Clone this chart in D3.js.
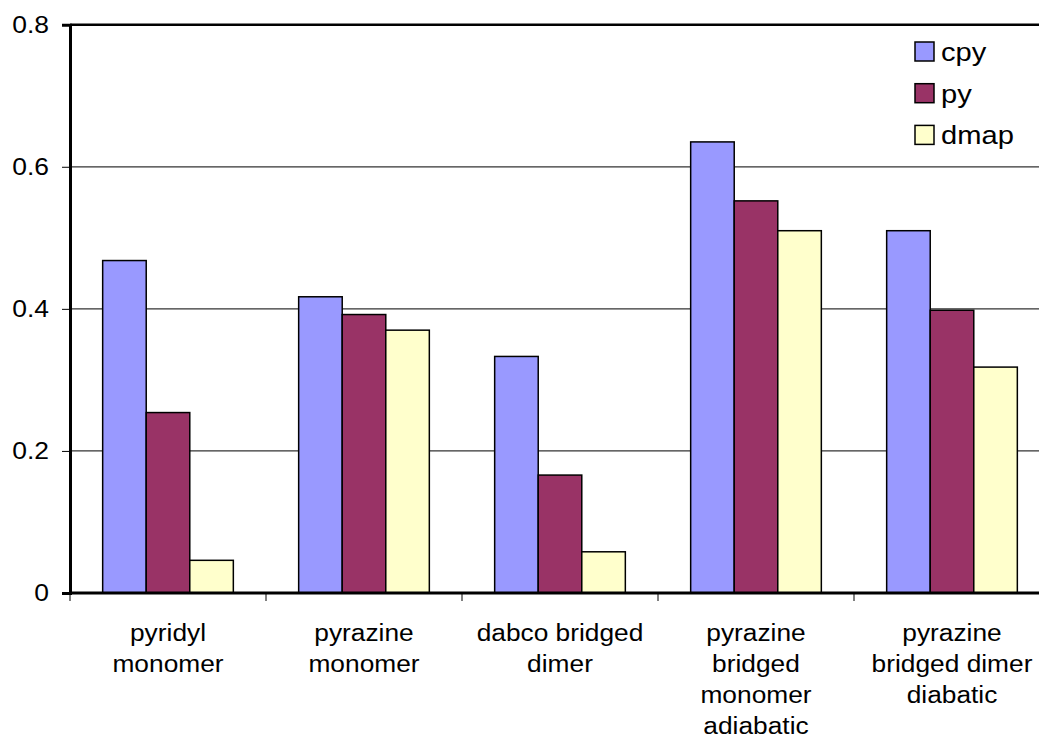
<!DOCTYPE html>
<html>
<head>
<meta charset="utf-8">
<script src="https://cdn.jsdelivr.net/npm/d3@7"></script>
<style>
  html, body { margin: 0; padding: 0; background: #fff; }
  svg { display: block; }
  text { font-family: "Liberation Sans", Arial, sans-serif; fill: #000; }
</style>
</head>
<body>
<svg id="chart" width="1039" height="742"></svg>
<script>
// Category labels (one array per line)
const categories = [
  ["pyridyl", "monomer"],
  ["pyrazine", "monomer"],
  ["dabco bridged", "dimer"],
  ["pyrazine", "bridged", "monomer", "adiabatic"],
  ["pyrazine", "bridged dimer", "diabatic"]
];
const seriesNames = ["cpy", "py", "dmap"];
const cpy  = [0.468, 0.417, 0.333, 0.635, 0.510];
const py   = [0.254, 0.392, 0.166, 0.552, 0.398];
const dmap = [0.046, 0.370, 0.058, 0.510, 0.318];
const yTicks = [0, 0.2, 0.4, 0.6, 0.8];
const colors = ["#9999FF", "#993366", "#FFFFCC"];

const seriesValues = [cpy, py, dmap];
const catKeys = categories.map(c => c.join(" "));

const svg = d3.select("#chart");
const plotLeft = 70, plotRight = 1050, plotTop = 24.7, plotBottom = 593;
const stretch = 1.12; // wide text face

const x0 = d3.scaleBand().domain(catKeys).range([plotLeft, plotRight]).padding(0);
const x1 = d3.scaleBand().domain(seriesNames).range([0, x0.bandwidth()])
  .paddingInner(0).paddingOuter(0.75);
const y = d3.scaleLinear().domain([0, 0.8]).range([plotBottom, plotTop]);

// Horizontal gridlines
svg.append("g")
  .selectAll("line")
  .data(yTicks.filter(t => t > 0 && t < 0.8))
  .join("line")
  .attr("x1", plotLeft).attr("x2", plotRight)
  .attr("y1", d => y(d)).attr("y2", d => y(d))
  .attr("stroke", "#333").attr("stroke-width", 1.2);

// Plot area top border
svg.append("line")
  .attr("x1", plotLeft).attr("x2", plotRight)
  .attr("y1", y(0.8)).attr("y2", y(0.8))
  .attr("stroke", "#000").attr("stroke-width", 2.5);

// Bars
const groups = svg.append("g")
  .selectAll("g")
  .data(catKeys)
  .join("g")
  .attr("transform", d => `translate(${x0(d)},0)`);

groups.selectAll("rect")
  .data((d, i) => seriesNames.map((s, j) => ({ s, v: seriesValues[j][i], c: colors[j] })))
  .join("rect")
  .attr("x", d => x1(d.s))
  .attr("width", x1.bandwidth())
  .attr("y", d => y(d.v))
  .attr("height", d => y(0) - y(d.v))
  .attr("fill", d => d.c)
  .attr("stroke", "#000")
  .attr("stroke-width", 1.5);

// Y axis
const yStretch = 1.15;
const yAxis = d3.axisLeft(y).tickValues(yTicks).tickSize(8).tickPadding(13)
  .tickFormat(d => d === 0 ? "0" : d3.format(".1f")(d));
const gy = svg.append("g").attr("transform", `translate(${plotLeft},0)`).call(yAxis);
gy.select(".domain").attr("stroke", "#000").attr("stroke-width", 3);
gy.selectAll(".tick line").attr("stroke", "#000").attr("stroke-width", 1);
gy.selectAll(".tick text")
  .attr("font-size", 23)
  .attr("font-family", "Liberation Sans, Arial, sans-serif")
  .attr("fill", "#000")
  .attr("x", -21 / yStretch)
  .attr("transform", `scale(${yStretch},1)`);

// X axis baseline and category ticks
const xTickPos = catKeys.map(k => x0(k));
svg.append("line")
  .attr("x1", plotLeft).attr("x2", plotRight)
  .attr("y1", plotBottom).attr("y2", plotBottom)
  .attr("stroke", "#000").attr("stroke-width", 3);
svg.append("g")
  .selectAll("line")
  .data(xTickPos.concat([plotRight]))
  .join("line")
  .attr("x1", d => d).attr("x2", d => d)
  .attr("y1", plotBottom).attr("y2", plotBottom + 8)
  .attr("stroke", "#000").attr("stroke-width", 1);

// Category labels
const lab = svg.append("g")
  .selectAll("text")
  .data(categories)
  .join("text")
  .attr("text-anchor", "middle")
  .attr("font-size", 23.5)
  .attr("transform", (d, i) =>
    `translate(${x0(catKeys[i]) + x0.bandwidth() / 2},641) scale(${stretch},1)`);
lab.selectAll("tspan")
  .data(d => d)
  .join("tspan")
  .attr("x", 0)
  .attr("dy", (d, i) => i === 0 ? 0 : 31)
  .text(d => d);

// Legend
const legend = svg.append("g").attr("transform", "translate(915,42)");
const li = legend.selectAll("g")
  .data(seriesNames)
  .join("g")
  .attr("transform", (d, i) => `translate(0,${i * 41.7})`);
li.append("rect")
  .attr("width", 19).attr("height", 19)
  .attr("fill", (d, i) => colors[i])
  .attr("stroke", "#000").attr("stroke-width", 1.5);
li.append("text")
  .attr("transform", `translate(26,19) scale(${stretch},1)`)
  .attr("font-size", 26)
  .text(d => d);
</script>
</body>
</html>
